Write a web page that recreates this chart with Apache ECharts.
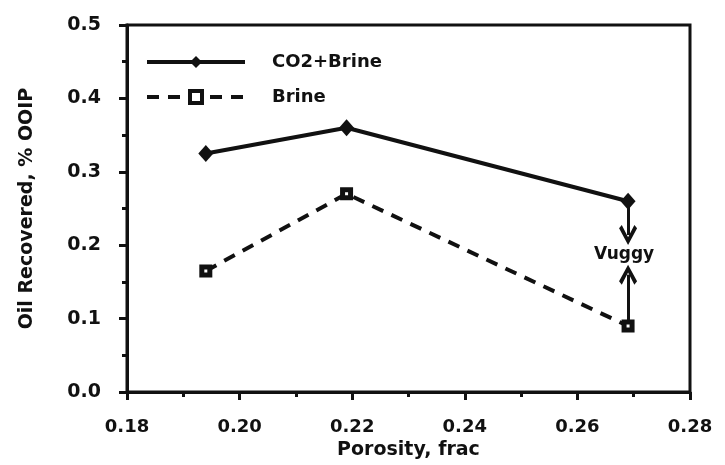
<!DOCTYPE html>
<html>
<head>
<meta charset="utf-8">
<title>Oil Recovered vs Porosity</title>
<script src="https://cdn.jsdelivr.net/npm/echarts@6/dist/echarts.min.js"></script>
<style>
  html, body { margin: 0; padding: 0; background: #fff; }
  #chart { width: 725px; height: 465px; }
</style>
</head>
<body>
<div id="chart"></div>
<script>
// values
const porosity = [0.194, 0.219, 0.269];
const co2Brine = [0.325, 0.36, 0.26];
const brine = [0.165, 0.27, 0.09];
const seriesNames = ['CO2+Brine', 'Brine'];
const annotation = 'Vuggy';

const FONT = 'DejaVu Sans';
const INK = '#111';

// open chevron head pointing up, markLine rotates it along the line
const chevron = 'path://M10,0 L20,15 L17,18 L10,7 L3,18 L0,15 Z';

const chart = echarts.init(document.getElementById('chart'));

chart.setOption({
  backgroundColor: '#fff',
  animation: false,
  grid: {
    left: 127,
    top: 25,
    width: 563,
    height: 370,
    show: true,
    borderColor: INK,
    borderWidth: 3,
    backgroundColor: 'transparent',
  },
  legend: {
    orient: 'vertical',
    left: 140,
    top: 48,
    itemWidth: 98,
    itemHeight: 15,
    itemGap: 17,
    textStyle: {
      fontFamily: FONT,
      fontSize: 18,
      fontWeight: 'bold',
      color: INK,
      padding: [0, 0, 0, 22],
    },
    data: [
      { name: seriesNames[0], lineStyle: { width: 4 } },
      { name: seriesNames[1], lineStyle: { width: 4 }, itemStyle: { borderWidth: 4 } },
    ],
  },
  xAxis: {
    type: 'value',
    min: 0.18,
    max: 0.28,
    interval: 0.02,
    name: 'Porosity, frac',
    nameLocation: 'middle',
    nameGap: 46,
    nameTextStyle: { fontFamily: FONT, fontSize: 19, fontWeight: 'bold', color: INK },
    axisLine: { show: true, onZero: false, lineStyle: { color: INK, width: 3 } },
    axisTick: { show: true, inside: false, length: 8, lineStyle: { color: INK, width: 3 } },
    minorTick: { show: true, splitNumber: 2, length: 5, lineStyle: { color: INK, width: 3 } },
    axisLabel: {
      margin: 26,
      fontFamily: FONT,
      fontSize: 18,
      fontWeight: 'bold',
      color: INK,
      formatter: (v) => v.toFixed(2),
    },
    splitLine: { show: false },
  },
  yAxis: {
    type: 'value',
    min: 0,
    max: 0.5,
    interval: 0.1,
    name: 'Oil Recovered, % OOIP',
    nameLocation: 'middle',
    nameGap: 90,
    nameTextStyle: { fontFamily: FONT, fontSize: 19, fontWeight: 'bold', color: INK },
    axisLine: { show: true, onZero: false, lineStyle: { color: INK, width: 3 } },
    axisTick: { show: true, inside: false, length: 8, lineStyle: { color: INK, width: 3 } },
    minorTick: { show: true, splitNumber: 2, length: 5, lineStyle: { color: INK, width: 3 } },
    axisLabel: {
      margin: 26,
      fontFamily: FONT,
      fontSize: 19,
      fontWeight: 'bold',
      color: INK,
      formatter: (v) => v.toFixed(1),
    },
    splitLine: { show: false },
  },
  series: [
    {
      name: seriesNames[0],
      type: 'line',
      data: porosity.map((x, i) => [x, co2Brine[i]]),
      symbol: 'diamond',
      symbolSize: [15, 17],
      itemStyle: { color: INK },
      lineStyle: { color: INK, width: 4, type: 'solid' },
      markLine: {
        silent: true,
        symbol: ['none', chevron],
        symbolSize: [18, 20],
        label: { show: false },
        lineStyle: { color: INK, width: 3, type: 'solid' },
        data: [[
          { coord: [porosity[2], co2Brine[2]] },
          { coord: [porosity[2], 0.214] },
        ]],
      },
      markPoint: {
        silent: true,
        symbol: 'circle',
        symbolSize: 0,
        label: {
          show: true,
          position: 'inside',
          formatter: annotation,
          fontFamily: FONT,
          fontSize: 17,
          fontWeight: 'bold',
          color: INK,
        },
        data: [{ coord: [0.2683, 0.187] }],
      },
    },
    {
      name: seriesNames[1],
      type: 'line',
      data: porosity.map((x, i) => [x, brine[i]]),
      symbol: 'rect',
      symbolSize: 8,
      itemStyle: { color: '#fff', borderColor: INK, borderWidth: 5 },
      lineStyle: { color: INK, width: 4, type: [12, 9] },
      markLine: {
        silent: true,
        symbol: ['none', chevron],
        symbolSize: [18, 20],
        label: { show: false },
        lineStyle: { color: INK, width: 3, type: 'solid' },
        data: [[
          { coord: [porosity[2], brine[2] + 0.005] },
          { coord: [porosity[2], 0.16] },
        ]],
      },
    },
  ],
});
</script>
</body>
</html>
